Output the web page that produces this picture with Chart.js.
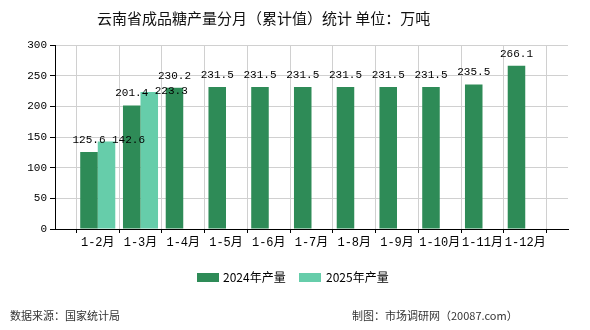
<!DOCTYPE html>
<html>
<head>
<meta charset="utf-8">
<script src="https://cdn.jsdelivr.net/npm/chart.js@4"></script>
<style>
  html, body { margin: 0; padding: 0; background: #fff; }
  #wrap { width: 590px; height: 330px; position: relative; }
</style>
</head>
<body>
<div id="wrap"><canvas id="grafico"></canvas></div>
<script>
// Categorias (com posições vazias nas pontas para deixar espaço no eixo)
const meses = ['', '1-2月', '1-3月', '1-4月', '1-5月', '1-6月', '1-7月', '1-8月', '1-9月', '1-10月', '1-11月', '1-12月', ''];
const producao2024 = [null, 125.6, 201.4, 230.2, 231.5, 231.5, 231.5, 231.5, 231.5, 231.5, 235.5, 266.1, null];
const producao2025 = [null, 142.6, 223.3, null, null, null, null, null, null, null, null, null, null];
const ticksY = [0, 50, 100, 150, 200, 250, 300];

const corVerde = '#2e8b57';
const corAgua = '#66cdaa';
const fonteNum = "'Liberation Mono', 'Noto Sans CJK SC', monospace";
const fonteCjk = "'Noto Sans CJK SC', sans-serif";

// Título, legenda, rodapé e rótulos de valor
const textosPlugin = {
    id: 'textos',
    afterDatasetsDraw(chart) {
        const ctx = chart.ctx;
        ctx.save();
        ctx.fillStyle = '#000';
        ctx.font = '11px ' + fonteNum;
        ctx.textAlign = 'center';
        ctx.textBaseline = 'middle';
        chart.data.datasets.forEach((ds, i) => {
            const meta = chart.getDatasetMeta(i);
            meta.data.forEach((bar, j) => {
                const v = ds.data[j];
                if (v === null) return;
                if (i === 0) {
                    ctx.fillText(v.toFixed(1), bar.x, bar.y - 12);
                } else {
                    ctx.fillText(v.toFixed(1), bar.x + 22, bar.y - 1);
                }
            });
        });
        ctx.restore();
    },
    afterDraw(chart) {
        const ctx = chart.ctx;
        ctx.save();
        ctx.textBaseline = 'middle';
        ctx.textAlign = 'left';
        ctx.fillStyle = '#111';
        ctx.font = '15px ' + fonteCjk;
        ctx.fillText('云南省成品糖产量分月（累计值）统计 单位：万吨', 97, 18);

        // legenda
        ctx.font = '12px ' + fonteCjk;
        ctx.fillStyle = corVerde;
        ctx.fillRect(197, 273, 22, 9);
        ctx.fillStyle = corAgua;
        ctx.fillRect(299, 273, 22, 9);
        ctx.fillStyle = '#000';
        ctx.fillText('2024年产量', 223, 277);
        ctx.fillText('2025年产量', 326, 277);

        // rodapé
        ctx.font = '11px ' + fonteCjk;
        ctx.fillStyle = '#333';
        ctx.fillText('数据来源：国家统计局', 10, 316);
        ctx.fillText('制图：市场调研网（20087.com）', 352, 316);
        ctx.restore();
    }
};

const ctx = document.getElementById('grafico').getContext('2d');
const grafico = new Chart(ctx, {
    type: 'bar',
    data: {
        labels: meses,
        datasets: [{
            label: '2024年产量',
            data: producao2024,
            backgroundColor: corVerde
        }, {
            label: '2025年产量',
            data: producao2025,
            backgroundColor: corAgua
        }]
    },
    options: {
        responsive: true,
        maintainAspectRatio: false,
        animation: false,
        categoryPercentage: 0.82,
        barPercentage: 1,
        layout: {
            padding: { left: 0, top: 45, right: 22, bottom: 71 }
        },
        plugins: {
            legend: { display: false },
            title: { display: false },
            tooltip: { enabled: false }
        },
        scales: {
            x: {
                offset: false,
                afterFit: s => { s.height = 30; },
                grid: { color: '#d0d0d0', tickColor: '#000', tickLength: 4 },
                border: { color: '#000' },
                ticks: {
                    color: '#000',
                    font: { family: fonteNum, size: 12 },
                    maxRotation: 0,
                    autoSkip: false,
                    padding: 3
                }
            },
            y: {
                min: 0,
                max: 300,
                afterFit: s => { s.width = 55; },
                afterBuildTicks: s => { s.ticks = ticksY.map(v => ({ value: v })); },
                grid: { color: '#d0d0d0', tickColor: '#000', tickLength: 5 },
                border: { color: '#000' },
                ticks: {
                    color: '#000',
                    font: { family: fonteNum, size: 11 },
                    padding: 3
                }
            }
        }
    },
    plugins: [textosPlugin]
});
</script>
</body>
</html>
